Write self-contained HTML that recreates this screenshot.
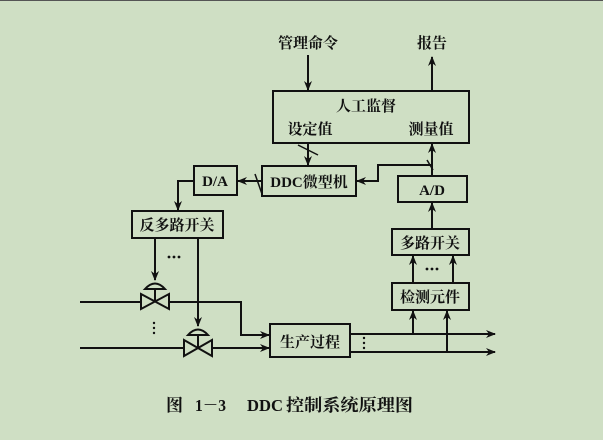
<!DOCTYPE html>
<html><head><meta charset="utf-8"><style>
html,body{margin:0;padding:0;background:#cfdfc4;}
svg{display:block}
text{font-family:"Liberation Serif","Noto Serif CJK SC","Noto Sans CJK SC",serif;fill:#111;font-weight:bold}
</style></head><body>
<svg width="603" height="440" viewBox="0 0 603 440" xmlns="http://www.w3.org/2000/svg">
<defs>
<marker id="a" markerWidth="10" markerHeight="8" refX="9" refY="4" orient="auto" markerUnits="userSpaceOnUse">
<path d="M0,0 L10,4 L0,8 L3,4 Z" fill="#111"/></marker>
</defs>
<rect x="0" y="0" width="603" height="440" fill="#cfdfc4"/>
<line x1="0" y1="0.5" x2="603" y2="0.5" stroke="#555" stroke-width="1"/>
<g stroke="#111" stroke-width="2" fill="none">
<rect x="273" y="91" width="196" height="52"/>
<rect x="262" y="166" width="94" height="30"/>
<rect x="194" y="166" width="43" height="29"/>
<rect x="398" y="176" width="69" height="26"/>
<rect x="132" y="211" width="91" height="27"/>
<rect x="392" y="229" width="77" height="26"/>
<rect x="392" y="283" width="77" height="27"/>
<rect x="270" y="324" width="80" height="33"/>
<line x1="308" y1="55" x2="308" y2="90" marker-end="url(#a)"/>
<line x1="432" y1="91" x2="432" y2="57" marker-end="url(#a)"/>
<line x1="308" y1="143" x2="308" y2="165" marker-end="url(#a)"/>
<line x1="432" y1="176" x2="432" y2="144" marker-end="url(#a)"/>
<polyline points="432,165 378,165 378,181 357,181" marker-end="url(#a)"/>
<line x1="262" y1="181" x2="238" y2="181" marker-end="url(#a)"/>
<polyline points="194,181 178,181 178,210" marker-end="url(#a)"/>
<line x1="298" y1="145" x2="318" y2="155" stroke-width="1.5"/>
<line x1="255" y1="174" x2="262" y2="194" stroke-width="1.5"/>
<line x1="427" y1="160" x2="433" y2="170" stroke-width="1.5"/>
<line x1="432" y1="229" x2="432" y2="203" marker-end="url(#a)"/>
<line x1="413" y1="283" x2="413" y2="256" marker-end="url(#a)"/>
<line x1="453" y1="283" x2="453" y2="256" marker-end="url(#a)"/>
<line x1="413" y1="334" x2="413" y2="311" marker-end="url(#a)"/>
<line x1="447" y1="352" x2="447" y2="311" marker-end="url(#a)"/>
<line x1="350" y1="334" x2="495" y2="334" marker-end="url(#a)"/>
<line x1="350" y1="352" x2="495" y2="352" marker-end="url(#a)"/>
<line x1="155" y1="238" x2="155" y2="280" marker-end="url(#a)"/>
<line x1="198" y1="238" x2="198" y2="326" marker-end="url(#a)"/>
<line x1="80" y1="302" x2="140" y2="302"/>
<polyline points="169,302 241,302 241,335 269,335" marker-end="url(#a)"/>
<line x1="80" y1="348" x2="183" y2="348"/>
<line x1="212" y1="348" x2="269" y2="348" marker-end="url(#a)"/>
<path d="M141,294 L169,309 L169,294 L141,309 Z"/>
<line x1="155" y1="289" x2="155" y2="301"/>
<path d="M145,289 Q155,278 165,289 Z"/>
<path d="M184,340 L212,356 L212,340 L184,356 Z"/>
<line x1="198" y1="335" x2="198" y2="348"/>
<path d="M188,335 Q198,324 208,335 Z"/>
</g>
<g fill="#111">
<circle cx="169" cy="257" r="1.4"/><circle cx="174" cy="257" r="1.4"/><circle cx="179" cy="257" r="1.4"/>
<circle cx="427" cy="269" r="1.4"/><circle cx="432" cy="269" r="1.4"/><circle cx="437" cy="269" r="1.4"/>
<circle cx="154" cy="323" r="1.2"/><circle cx="154" cy="328" r="1.2"/><circle cx="154" cy="333" r="1.2"/>
<circle cx="364" cy="338" r="1.2"/><circle cx="364" cy="343" r="1.2"/><circle cx="364" cy="348" r="1.2"/>
</g>
<g font-size="15" text-anchor="middle">
<text x="308" y="48">管理命令</text>
<text x="432" y="48">报告</text>
<text x="366" y="111">人工监督</text>
<text x="310" y="134">设定值</text>
<text x="431" y="134">测量值</text>
<text x="309" y="187">DDC微型机</text>
<text x="215" y="186" font-weight="normal">D/A</text>
<text x="432" y="195" font-weight="normal">A/D</text>
<text x="177" y="230">反多路开关</text>
<text x="430" y="248">多路开关</text>
<text x="430" y="302">检测元件</text>
<text x="310" y="347">生产过程</text>
</g>
<g font-size="17" font-weight="normal">
<text x="166" y="411" font-weight="normal">图</text>
<text x="195" y="411" font-weight="normal" textLength="31" lengthAdjust="spacingAndGlyphs">1－3</text>
<text x="247" y="411" font-weight="normal" textLength="36" lengthAdjust="spacingAndGlyphs">DDC</text>
<text x="286" y="411" textLength="127" lengthAdjust="spacingAndGlyphs">控制系统原理图</text>
</g>
</svg>
</body></html>
